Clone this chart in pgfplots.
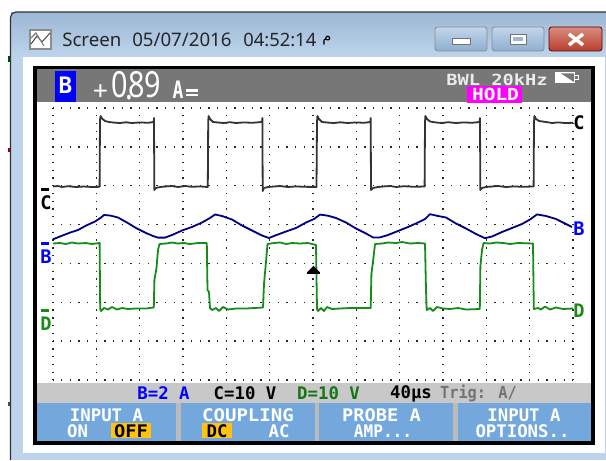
\documentclass[border=0pt]{standalone}
\usepackage{fontspec}
\usepackage{graphicx}
\usepackage{pgfplots}
\pgfplotsset{compat=1.18}
\setmainfont{Noto Sans}
\newfontfamily\lcd{DejaVu Sans Mono}[BoldFont={DejaVu Sans Mono Bold}]
\newfontfamily\arabicfont[Script=Arabic]{DejaVu Sans}
\TeXXeTstate=1
\definecolor{bandtop}{HTML}{9DB8D5}
\definecolor{bandbot}{HTML}{BDD4EC}
\definecolor{hdr}{HTML}{777777}
\definecolor{stat}{HTML}{C8C8C8}
\definecolor{btn}{HTML}{74A8DC}
\definecolor{sep}{HTML}{BBBBBB}
\definecolor{tracec}{HTML}{333333}
\definecolor{traceb}{HTML}{000080}
\definecolor{traced}{HTML}{1A8A1A}
\definecolor{amber}{HTML}{FFC20E}
\definecolor{wbt}{HTML}{C2D6EB}
\definecolor{wbb}{HTML}{8FAECF}
\definecolor{rt}{HTML}{D98B7E}
\definecolor{rb}{HTML}{B8402E}
\definecolor{hold}{HTML}{FF00FF}
\newcommand{\LC}[2]{{\lcd\bfseries\fontsize{#1}{#1}\selectfont #2}}
\newcommand{\wbtn}[2]{\shade[top color=wbt,bottom color=wbb,rounded corners=2pt,draw=black!45,line width=.6pt] (#1,27) rectangle (#2,51);}
\begin{document}
\begin{tikzpicture}[x=0.75pt,y=-0.75pt]
\path[use as bounding box] (0,0) rectangle (606,460);
\fill[white] (0,0) rectangle (606,460);
% window
\shade[top color=bandtop,bottom color=bandbot] (11,13) rectangle (606,57);
\fill[bandbot] (11,57) rectangle (606,460);
\draw[black!80,line width=.9pt,rounded corners=4pt] (10.5,460) -- (10.5,12) -- (606,12);
\fill[white] (23,57) rectangle (605,453);
\fill[black!70!green] (7.5,56) rectangle (9.5,62);
\fill[red!60!black] (7.5,148) rectangle (9.5,152);
\fill[black!70] (8,402) rectangle (10,406);
% title
\node[anchor=west,inner sep=0,text=black!85] at (62,39.5) {\fontsize{14}{15}\selectfont Screen};
\node[anchor=west,inner sep=0,text=black!85] at (132,39.5) {\fontsize{14}{15}\selectfont 05/07/2016};
\node[anchor=west,inner sep=0,text=black!85] at (243,39.5) {\fontsize{13.8}{15}\selectfont 04:52:14};
\node[anchor=west,inner sep=0,text=black] at (322,41) {\arabicfont\fontsize{11}{13}\selectfont\beginR م\endR};
\fill[black!45] (29,29) rectangle (52,50);
\fill[white] (31,31) rectangle (50,48);
\draw[black!70,line width=.8pt] (31,44) -- (37,36) -- (42,42) -- (50,33);
\draw[black!50,line width=.8pt] (31,38) -- (36,33) -- (44,46);
% window buttons
\wbtn{435}{487}
\wbtn{492}{544}
\shade[top color=rt,bottom color=rb,rounded corners=2pt,draw=black!60!red,line width=.6pt] (549,27) rectangle (602,51);
\fill[white,draw=black!55,line width=.5pt] (452,38) rectangle (470,44);
\fill[white,draw=black!55,line width=.7pt] (510,34) rectangle (526,44);
\fill[bandtop] (513,37.5) rectangle (523,41);
\draw[white,line width=2.6pt] (569,34) -- (583,45) (583,34) -- (569,45);
% scope frame
\fill[black] (33,66) rectangle (595,445);
\fill[hdr] (37,69) rectangle (591,102);
\fill[white] (37,102) rectangle (591,383);
\fill[stat] (37,383) rectangle (591,403);
\fill[btn] (37,403) rectangle (591,441);
\fill[sep] (176,403) rectangle (181,441);
\fill[sep] (314.5,403) rectangle (319,441);
\fill[sep] (453,403) rectangle (458,441);
% header
\fill[blue] (55,71) rectangle (76,102);
\node[inner sep=0,text=white] at (65.5,85) {\LC{17}{B}};
\node[inner sep=0,text=white] at (100.5,93) {\fontsize{20}{21}\selectfont\bfseries +};
\node[anchor=base west,inner sep=0,text=white] at (111.5,98) {\fontsize{27}{28}\selectfont\scalebox{.8}[1]{0\kern-.1em\raisebox{-1.2pt}{.}\kern-.168em 89}};
\node[inner sep=0,text=white] at (178,90) {\LC{18}{\scalebox{.75}[1]{A}}};
\fill[white] (186,89) rectangle (198,92);
\fill[white] (186,94) rectangle (198,96);
\node[anchor=base west,inner sep=0,text=white!92!black] at (446,85) {\LC{11.5}{\scalebox{1.22}[1]{BWL 20kHz}}};
\fill[white] (555,72) rectangle (575,83);
\fill[hdr] (561,73.5) -- (574,73.5) -- (574,82) -- cycle;
\fill[white] (575,75) rectangle (579,80);
\fill[hdr] (575,76.5) rectangle (577.5,78.5);
\fill[hold] (467,86) rectangle (522,103);
\node[inner sep=0,text=white] at (495.5,94.5) {\LC{12.5}{\scalebox{1.17}[1]{HOLD}}};
% status
\node[inner sep=0,text=blue] at (163.5,393.5) {\LC{13}{B=2 A}};
\node[inner sep=0,text=black] at (245,393.5) {\LC{13}{C=10 V}};
\node[inner sep=0,text=traced!85!black] at (328.5,393.5) {\LC{13}{D=10 V}};
\node[inner sep=0,text=black] at (411,393.5) {\LC{13}{40µs}};
\node[inner sep=0,text=black!55] at (478.5,393.5) {\LC{12.5}{\scalebox{.92}[1]{Trig: A/}}};
% soft keys
\node[inner sep=0,text=white] at (106.5,415.5) {\LC{13}{INPUT A}};
\node[inner sep=0,text=white] at (77.5,431) {\LC{13}{ON}};
\fill[amber] (111,423) rectangle (151,438);
\node[inner sep=0,text=black] at (131,431) {\LC{13}{\scalebox{1.08}[1]{OFF}}};
\node[inner sep=0,text=white] at (248,415.5) {\LC{13}{\scalebox{1.1}[1]{COUPLING}}};
\fill[amber] (202,423) rectangle (232,438);
\node[inner sep=0,text=black] at (217,431) {\LC{13}{DC}};
\node[inner sep=0,text=white] at (279,431) {\LC{13}{AC}};
\node[inner sep=0,text=white] at (381.5,415.5) {\LC{13}{\scalebox{1.08}[1]{PROBE A}}};
\node[inner sep=0,text=white] at (383,431) {\LC{13}{\scalebox{.93}[1]{AMP...}}};
\node[inner sep=0,text=white] at (524,415.5) {\LC{13}{INPUT A}};
\node[inner sep=0,text=white] at (522.5,431) {\LC{13}{OPTIONS..}};
% channel labels
\fill[black] (41,188) rectangle (49,191);
\node[inner sep=0,text=black] at (46,203) {\LC{14}{C}};
\fill[blue] (41,242) rectangle (49,245);
\node[inner sep=0,text=blue] at (46,257) {\LC{14}{B}};
\fill[traced] (41,309) rectangle (49,312);
\node[inner sep=0,text=traced] at (46,323.5) {\LC{14}{D}};
\node[inner sep=0,text=black] at (579,122.5) {\LC{14}{C}};
\node[inner sep=0,text=blue] at (579,229) {\LC{14}{B}};
\node[inner sep=0,text=traced] at (579,310.5) {\LC{14}{D}};
\begin{axis}[
  at={(53,108)},anchor=north west,
  x=0.75pt,y=0.75pt,y dir=reverse,
  xmin=53,xmax=573,ymin=108,ymax=380,
  axis line style={draw=none},tick style={draw=none},
  xticklabels={},yticklabels={},
  xtick={53,96.33,139.67,183,226.33,269.67,313,356.33,399.67,443,486.33,529.67,573},
  ytick={108,146.86,185.71,224.57,263.43,302.29,341.14,380},
  xmajorgrids,ymajorgrids,
  x grid style={black!85,line width=1pt,dash pattern=on 1pt off 4.83pt,dash phase=.5pt},
  y grid style={black!85,line width=1pt,dash pattern=on 1pt off 5.5pt,dash phase=.5pt},
  clip=false,
  every axis plot/.append style={line width=1.35pt,line join=round},
]
% C
\addplot[tracec,mark=none] coordinates {(53,186.5)(58,186)(62,187)(68,186.2)(76,187)(84,186.5)(92,187)(99.6,186.8)(100,120)(100.6,116)(102,118.5)(105,121)(109,122)(114,122.6)(120,123)(126,122.3)(132,123)(140,122.4)(148,122.8)(153.8,122)(154,118)(154.3,190)(156,188)(160,187)(166,186.4)(172,186)(178,187)(185,186)(192,186.8)(200,186.4)(207.8,187)(208.2,122)(208.6,116)(210,119)(213,122)(218,122.5)(224,123)(230,122.2)(236,123)(244,122.4)(252,122.8)(262,122)(262.4,118)(262.7,191)(264,188)(268,187)(274,186.5)(280,186)(288,187)(296,186.4)(304,186.8)(316.5,187)(317,122)(317.4,116)(319,119)(322,122)(328,122.6)(334,123)(340,122.3)(348,123)(356,122.4)(364,122.8)(370.4,122)(370.7,118)(371,190)(373,188)(378,187)(384,186.4)(390,186)(396,187)(404,186.2)(414,186.8)(424.6,186.5)(425,122)(425.4,116)(427,119)(430,121.5)(436,122.5)(442,123)(448,122.2)(456,123)(464,122.4)(472,122.8)(479.6,122)(480,118)(480.3,190)(482,188)(486,187)(492,186.5)(498,186)(506,187)(514,186.4)(522,186.8)(533.6,186.5)(534,122)(534.4,116)(536,119)(539,121)(546,122)(552,123)(558,122.4)(565,123)(573,122.8)};
% B
\addplot[traceb,mark=none] coordinates {(53,239.3)(60,236.5)(70,232.6)(78,230)(86,225.6)(95,221.5)(101,217.5)(104,215)(110,215.5)(118,217.5)(127,222.5)(136,228)(146,233)(153,236)(158,237.6)(165,237.6)(172,235)(182,230.5)(192,227)(202,222.5)(210,218)(215,214.5)(222,216)(232,219.5)(242,225.5)(252,230.5)(262,235.5)(269,238)(276,235.2)(286,231.5)(296,228)(306,222.5)(314,219)(320,214.6)(328,215.7)(336,218)(346,222.5)(356,228.5)(366,233.5)(373,237.4)(380,237.4)(388,235)(398,231)(408,227)(418,222.5)(425,219)(430,214.2)(438,216)(446,217.5)(456,223.5)(466,228.5)(476,234)(485,238.2)(492,236.5)(502,232)(512,228)(522,224)(530,219.5)(537,214.4)(546,216)(556,219)(565,223.5)(572,227)};
% D
\addplot[traced,mark=none] coordinates {(53,243.5)(60,243)(66,244)(72,242.5)(78,243.5)(86,243)(92,244)(99.6,243)(100.2,309)(101,311)(104,308)(108,309.5)(112,307)(117,309.5)(122,308)(128,309)(136,308.5)(146,308.5)(153.8,307.5)(154.4,280)(156.5,268)(158,250)(159.5,244)(166,243.5)(172,242.5)(178,243.5)(184,243)(190,244)(198,243)(206.8,243)(207.5,290)(209,292)(210,308)(212,310)(216,308)(219,311)(223,307)(228,309.5)(236,308.5)(246,308.5)(263,307.5)(264,284)(266,262)(267.5,244)(274,243)(280,242.5)(286,244)(292,243)(300,243.5)(308,243)(316,245)(317,309)(318,311)(321,308)(324,311)(327,307)(332,309)(340,308.5)(350,308)(358,308)(370.7,308)(371.4,274)(373,262)(375,244)(382,243.5)(388,242.5)(396,243)(402,242)(410,243.5)(418,243)(425,243.5)(426,290)(426.7,310)(430,308)(433,311)(437,307)(443,308.5)(450,309)(458,308)(466,309.5)(479.8,309)(480.4,266)(482,250)(483.6,243)(490,243.5)(496,242.5)(503,243)(510,244)(518,243)(533,243.5)(533.8,309)(538,308)(541,309.5)(545,306.5)(550,309.5)(556,307.5)(563,309)(573,308.5)};
% trigger
\addplot[only marks,mark=triangle*,mark size=5pt,mark options={draw=none,fill=black,yscale=.6}] coordinates {(313.5,271)};
\end{axis}
\end{tikzpicture}
\end{document}
